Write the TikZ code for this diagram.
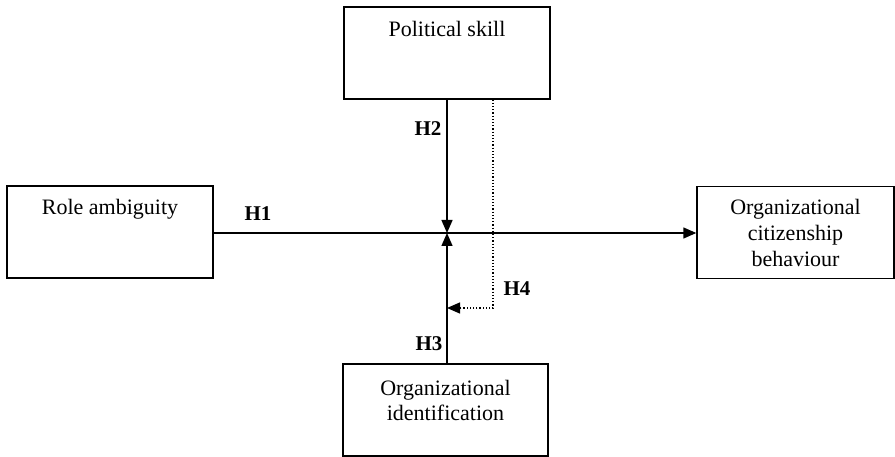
\documentclass[tikz,border=0pt]{standalone}
\usepackage{fontspec}
\setmainfont{Liberation Serif}
\usetikzlibrary{arrows.meta}
\begin{document}
\begin{tikzpicture}[x=1pt,y=-1pt,
  box/.style={draw, line width=1.4pt, inner sep=0pt, minimum height=92pt},
  txt/.style={inner sep=0pt, anchor=base, font=\fontsize{22}{26}\selectfont},
  hlab/.style={inner sep=0pt, font=\fontsize{21}{24}\selectfont\bfseries},
  conn/.style={line width=1.4pt, -{Triangle[length=13pt,width=11pt]}},
  dconn/.style={line width=1.2pt, dotted, -{Triangle[length=13pt,width=11pt]}}]
\useasboundingbox (0,0) rectangle (895,457);
% boxes
\node[box, minimum width=206pt] (ps) at (447,53) {};
\node[box, minimum width=206pt] (ra) at (110,232) {};
\node[box, minimum width=197pt] (ocb) at (795.5,232.5) {};
\node[box, minimum width=205pt] (oi) at (445.5,410) {};
% texts
\node[txt] (pst) at (447,37) {Political skill};
\node[txt] (rat) at (110,215) {Role ambiguity};
\node[txt] (ocb1) at (795.5,215) {Organizational};
\node[txt] (ocb2) at (795.5,241) {citizenship};
\node[txt] (ocb3) at (795.5,267) {behaviour};
\node[txt] (oi1) at (445.5,395) {Organizational};
\node[txt] (oi2) at (445.5,420) {identification};
% junction coordinates
\coordinate (c) at (447,233);
\coordinate (d1) at (493,308);
\coordinate (d2) at (447,308);
% connectors
\draw[conn] (ra.east |- c) -- (ocb.west |- c);
\draw[conn] (ps.south -| c) -- (c);
\draw[conn] (oi.north -| c) -- (c);
\draw[dconn] (ps.south -| d1) -- (d1) -- (d2);
% labels
\node[hlab] (h1) at (258,214) {H1};
\node[hlab] (h2) at (428,129) {H2};
\node[hlab] (h3) at (429,344) {H3};
\node[hlab] (h4) at (517,289) {H4};
\end{tikzpicture}
\end{document}
